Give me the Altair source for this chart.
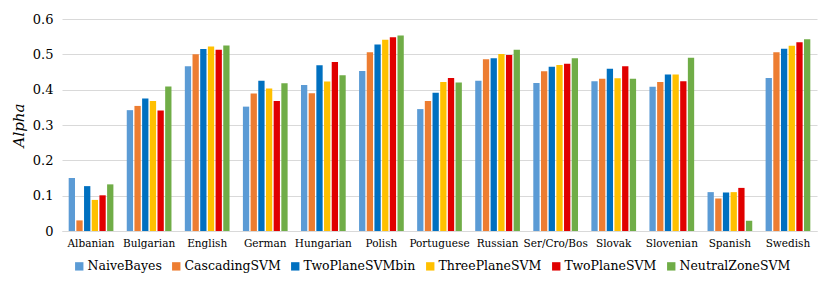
import altair as alt
import pandas as pd

languages = ["Albanian", "Bulgarian", "English", "German", "Hungarian", "Polish",
             "Portuguese", "Russian", "Ser/Cro/Bos", "Slovak", "Slovenian", "Spanish", "Swedish"]
methods = ["NaiveBayes", "CascadingSVM", "TwoPlaneSVMbin", "ThreePlaneSVM", "TwoPlaneSVM", "NeutralZoneSVM"]
colors = ["#5B9BD5", "#ED7D31", "#0070C0", "#FFC000", "#E00000", "#70AD47"]

naive_bayes      = [0.150, 0.342, 0.466, 0.352, 0.413, 0.453, 0.345, 0.425, 0.419, 0.424, 0.408, 0.110, 0.433]
cascading_svm    = [0.030, 0.354, 0.500, 0.389, 0.390, 0.506, 0.368, 0.486, 0.452, 0.431, 0.422, 0.092, 0.506]
two_plane_bin    = [0.127, 0.375, 0.515, 0.425, 0.469, 0.528, 0.391, 0.489, 0.465, 0.459, 0.443, 0.109, 0.516]
three_plane_svm  = [0.088, 0.368, 0.522, 0.403, 0.423, 0.541, 0.422, 0.501, 0.470, 0.432, 0.443, 0.110, 0.524]
two_plane_svm    = [0.101, 0.341, 0.513, 0.368, 0.478, 0.548, 0.433, 0.498, 0.473, 0.466, 0.424, 0.122, 0.534]
neutral_zone_svm = [0.132, 0.409, 0.525, 0.418, 0.441, 0.553, 0.420, 0.513, 0.489, 0.431, 0.490, 0.029, 0.543]

series = [naive_bayes, cascading_svm, two_plane_bin, three_plane_svm, two_plane_svm, neutral_zone_svm]
rows = []
for m, vals in zip(methods, series):
    for lang, v in zip(languages, vals):
        rows.append({"Language": lang, "Method": m, "Alpha": v})
df = pd.DataFrame(rows)

FONT = "DejaVu Serif"

chart = alt.Chart(df).mark_bar().encode(
    x=alt.X("Language:N", sort=languages, title=None,
            scale=alt.Scale(paddingInner=0.23, paddingOuter=0.115),
            axis=alt.Axis(labelAngle=0, labelFont=FONT, labelFontSize=10.5, labelColor="#000000",
                          ticks=False, domainColor="#D9D9D9", labelPadding=7)),
    xOffset=alt.XOffset("Method:N", sort=methods,
                        scale=alt.Scale(paddingInner=0.18, paddingOuter=0)),
    y=alt.Y("Alpha:Q", title="Alpha",
            scale=alt.Scale(domain=[0, 0.6], nice=False),
            axis=alt.Axis(values=[0, 0.1, 0.2, 0.3, 0.4, 0.5, 0.6],
                          labelExpr="datum.value == 0 ? '0' : format(datum.value, '.1f')",
                          labelFont=FONT, labelFontSize=13, labelColor="#000000",
                          ticks=False, domain=False, gridColor="#D9D9D9", labelPadding=9,
                          titleFont=FONT, titleFontSize=15, titleFontStyle="italic",
                          titleFontWeight="normal", titleColor="#000000", titlePadding=6)),
    color=alt.Color("Method:N", sort=methods,
                    scale=alt.Scale(domain=methods, range=colors),
                    legend=alt.Legend(title=None, orient="none", legendX=11, legendY=241,
                                      direction="horizontal", columns=6,
                                      symbolType="square", symbolSize=70, symbolStrokeWidth=0,
                                      labelFont=FONT, labelFontSize=12.5, labelColor="#000000",
                                      columnPadding=8, labelOffset=2)),
).properties(
    width=755, height=212,
    autosize=alt.AutoSizeParams(type="none"),
    padding={"left": 54, "top": 11, "right": 5, "bottom": 55},
).configure_view(stroke=None)

chart.save("out.html", embed_options={"renderer": "svg", "actions": False})
